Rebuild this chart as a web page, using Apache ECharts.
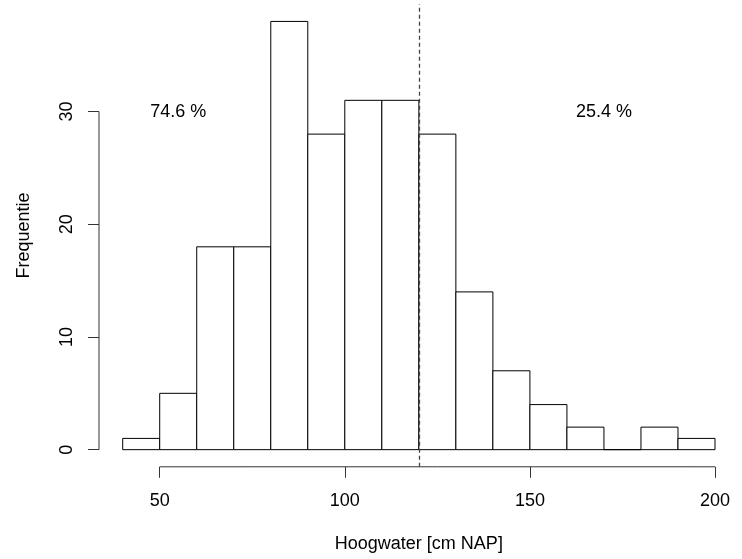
<!DOCTYPE html>
<html>
<head>
<meta charset="utf-8">
<script src="https://cdn.jsdelivr.net/npm/echarts@6/dist/echarts.min.js"></script>
<style>
  html, body { margin: 0; padding: 0; background: #fff; }
  #chart { width: 742px; height: 559px; }
</style>
</head>
<body>
<div id="chart"></div>
<script>
// Histogram of high-water levels, 10 cm bins
var binStarts = [40, 50, 60, 70, 80, 90, 100, 110, 120, 130, 140, 150, 160, 170, 180, 190];
var binWidth = 10;
var counts = [1, 5, 18, 18, 38, 28, 31, 31, 28, 14, 7, 4, 2, 0, 2, 1];

var xTicks = [50, 100, 150, 200];
var yTicks = [0, 10, 20, 30];

var cutoff = 120;
// where the share labels sit (data coordinates)
var shareLabelX = [55, 170];
var shareLabelY = 30;

var FONT = '"Liberation Sans", Arial, Helvetica, sans-serif';

// plot range extended by 4% on each side
var xLo = binStarts[0], xHi = binStarts[binStarts.length - 1] + binWidth;
var yLo = 0, yHi = Math.max.apply(null, counts);
var xPad = (xHi - xLo) * 0.04, yPad = (yHi - yLo) * 0.04;

var total = counts.reduce(function (a, b) { return a + b; }, 0);
var below = 0;
binStarts.forEach(function (s, i) { if (s + binWidth <= cutoff) below += counts[i]; });
var pctBelow = (100 * below / total).toFixed(1) + ' %';
var pctAbove = (100 * (total - below) / total).toFixed(1) + ' %';

var binData = binStarts.map(function (s, i) { return [s, s + binWidth, counts[i]]; });

var chart = echarts.init(document.getElementById('chart'), null, { renderer: 'canvas' });

chart.setOption({
  animation: false,
  backgroundColor: '#ffffff',
  textStyle: { fontFamily: FONT },
  grid: { left: 99, right: 3.3, top: 4.3, bottom: 92.2 },
  xAxis: {
    type: 'value',
    min: xLo - xPad,
    max: xHi + xPad,
    name: 'Hoogwater [cm NAP]',
    nameLocation: 'middle',
    nameGap: 68,
    nameTextStyle: { fontSize: 18, color: '#000', fontFamily: FONT },
    axisLine: { show: false, onZero: false },
    splitLine: { show: false },
    axisTick: { show: true, length: 11, customValues: xTicks, lineStyle: { color: '#333', width: 1 } },
    axisLabel: { show: true, customValues: xTicks, margin: 25, fontSize: 18, color: '#000', fontFamily: FONT }
  },
  yAxis: {
    type: 'value',
    min: yLo - yPad,
    max: yHi + yPad,
    name: 'Frequentie',
    nameLocation: 'middle',
    nameGap: 66,
    nameTextStyle: { fontSize: 18, color: '#000', fontFamily: FONT },
    axisLine: { show: false, onZero: false },
    splitLine: { show: false },
    axisTick: { show: true, length: 11, customValues: yTicks, lineStyle: { color: '#333', width: 1 } },
    axisLabel: { show: true, customValues: yTicks, rotate: 90, margin: 23, fontSize: 18, color: '#000', fontFamily: FONT }
  },
  series: [
    {
      // histogram bars
      type: 'custom',
      data: binData,
      encode: { x: [0, 1], y: 2 },
      renderItem: function (params, api) {
        var p0 = api.coord([api.value(0), api.value(2)]);
        var p1 = api.coord([api.value(1), 0]);
        return {
          type: 'rect',
          shape: { x: p0[0], y: p0[1], width: p1[0] - p0[0], height: p1[1] - p0[1] },
          style: { fill: '#fff', stroke: '#000', lineWidth: 1 }
        };
      },
      markLine: {
        silent: true,
        symbol: 'none',
        label: { show: false },
        lineStyle: { color: '#444', type: [4, 3], width: 1.3 },
        data: [{ xAxis: cutoff }]
      },
      z: 2
    },
    {
      // axis lines spanning the tick range only
      type: 'custom',
      data: [[0]],
      silent: true,
      renderItem: function (params, api) {
        var yBase = yLo - yPad, xBase = xLo - xPad;
        var a0 = api.coord([xTicks[0], yBase]);
        var a1 = api.coord([xTicks[xTicks.length - 1], yBase]);
        var b0 = api.coord([xBase, yTicks[0]]);
        var b1 = api.coord([xBase, yTicks[yTicks.length - 1]]);
        return {
          type: 'group',
          children: [
            { type: 'line', shape: { x1: a0[0], y1: a0[1], x2: a1[0], y2: a1[1] }, style: { stroke: '#333', lineWidth: 1 } },
            { type: 'line', shape: { x1: b0[0], y1: b0[1], x2: b1[0], y2: b1[1] }, style: { stroke: '#333', lineWidth: 1 } }
          ]
        };
      },
      z: 3
    },
    {
      // share of observations below / above the cutoff
      type: 'custom',
      data: [[shareLabelX[0], shareLabelY, pctBelow], [shareLabelX[1], shareLabelY, pctAbove]],
      silent: true,
      renderItem: function (params, api) {
        var p = api.coord([api.value(0), api.value(1)]);
        return {
          type: 'text',
          x: p[0],
          y: p[1],
          style: {
            text: params.dataIndex === 0 ? pctBelow : pctAbove,
            fill: '#000',
            font: '18px ' + FONT,
            align: 'center',
            verticalAlign: 'middle'
          }
        };
      },
      z: 4
    }
  ]
});
</script>
</body>
</html>
